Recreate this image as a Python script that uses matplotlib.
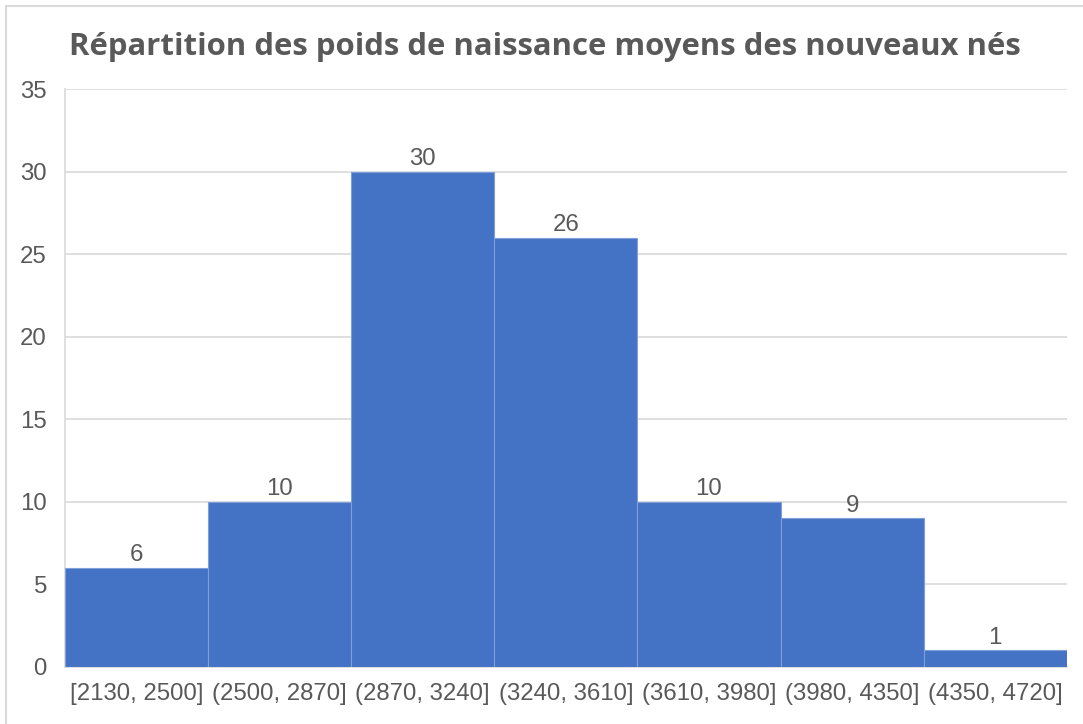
"""Histogram of mean birth weights of newborns, Excel style."""
import matplotlib

matplotlib.use("Agg")
import matplotlib.pyplot as plt  # noqa: E402
from matplotlib.patches import Rectangle  # noqa: E402

bins = [
    "[2130, 2500]",
    "(2500, 2870]",
    "(2870, 3240]",
    "(3240, 3610]",
    "(3610, 3980]",
    "(3980, 4350]",
    "(4350, 4720]",
]
counts = [6, 10, 30, 26, 10, 9, 1]
title = "Répartition des poids de naissance moyens des nouveaux nés"

text_color = "#595959"
grid_color = "#d9d9d9"

fig = plt.figure(figsize=(10.83, 7.24), dpi=100)
ax = fig.add_axes([0.060, 0.079, 0.925, 0.798])

positions = range(len(bins))
bars = ax.bar(positions, counts, width=1.0, color="#4472c4",
              edgecolor="#7f9fd8", linewidth=0.8, zorder=3)
ax.bar_label(bars, labels=[str(c) for c in counts], padding=1,
             fontsize=17.3, color=text_color, family="Liberation Sans")

ax.set_xlim(-0.5, len(bins) - 0.5)
ax.set_ylim(0, 35)
ax.set_yticks(range(0, 36, 5))
ax.set_xticks(list(positions))
ax.set_xticklabels(bins)
ax.tick_params(length=0, labelsize=17.3, labelcolor=text_color, pad=12)
ax.tick_params(axis="y", pad=13)
for lab in ax.get_xticklabels() + ax.get_yticklabels():
    lab.set_family("Liberation Sans")

ax.grid(axis="y", color=grid_color, linewidth=1.2, zorder=0)
for side in ("top", "right"):
    ax.spines[side].set_visible(False)
for side in ("left", "bottom"):
    ax.spines[side].set_color(grid_color)
    ax.spines[side].set_linewidth(1.2)

fig.text(0.503, 0.935, title, ha="center", va="center", fontsize=22.4,
         fontweight="bold", color=text_color, family="Open Sans")

# light border around the chart area
fig.patches.append(Rectangle((6 / 1083, -0.01), 1.1, 1.0 - 6 / 724 + 0.01,
                             transform=fig.transFigure, fill=False,
                             edgecolor="#d9d9d9", linewidth=1.5))

fig.savefig("out.png", dpi=100)
